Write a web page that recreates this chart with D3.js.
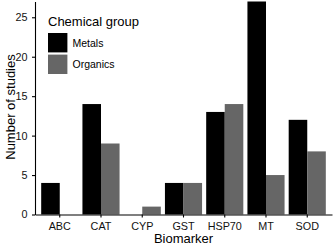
<!DOCTYPE html>
<html>
<head>
<meta charset="utf-8">
<script src="https://cdn.jsdelivr.net/npm/d3@7"></script>
<style>
  body { margin: 0; background: #fff; }
  svg { display: block; font-family: "Liberation Sans", Arial, sans-serif; }
</style>
</head>
<body>
<div id="chart"></div>
<script>
var biomarkers = ['ABC', 'CAT', 'CYP', 'GST', 'HSP70', 'MT', 'SOD'];
var groups = ['Metals', 'Organics'];
var metals = [4, 14, 0, 4, 13, 27, 12];
var organics = [0, 9, 1, 4, 14, 5, 8];
var yTicks = [0, 5, 10, 15, 20, 25];
var colors = ['#000000', '#666666'];

var width = 333, height = 245;
var svg = d3.select('#chart').append('svg')
  .attr('width', width)
  .attr('height', height);

var rows = biomarkers.map(function(b, i) {
  return { name: b, values: [metals[i], organics[i]] };
});

var x = d3.scaleBand()
  .domain(biomarkers)
  .range([35, 332])
  .paddingInner(0.1)
  .paddingOuter(0.15);

var xInner = d3.scaleBand()
  .domain(groups)
  .range([0, x.bandwidth()]);

var y = d3.scaleLinear()
  .domain([0, 27])
  .range([214.5, 1.5]);

// bars
svg.append('g')
  .selectAll('g')
  .data(rows)
  .enter()
  .append('g')
  .attr('transform', function(d) { return 'translate(' + x(d.name) + ',0)'; })
  .selectAll('rect')
  .data(function(d) { return d.values; })
  .enter()
  .append('rect')
  .attr('x', function(d, i) { return xInner(groups[i]); })
  .attr('width', xInner.bandwidth())
  .attr('y', function(d) { return y(d); })
  .attr('height', function(d) { return y(0) - y(d); })
  .attr('fill', function(d, i) { return colors[i]; });

// axes
var xAxis = svg.append('g')
  .attr('transform', 'translate(0,214.5)')
  .call(d3.axisBottom(x).tickSize(3).tickSizeOuter(0));

var yAxis = svg.append('g')
  .attr('transform', 'translate(35,0)')
  .call(d3.axisLeft(y).tickValues(yTicks).tickSize(3).tickSizeOuter(0));

svg.selectAll('.domain').attr('stroke', '#000').attr('stroke-width', 1.1);
svg.selectAll('.tick line').attr('stroke', '#000').attr('stroke-width', 1.1);
xAxis.attr('font-family', null);
yAxis.attr('font-family', null);
xAxis.selectAll('text')
  .attr('fill', '#111')
  .style('font-size', '10.8px')
  .attr('dy', '0.75em')
  .attr('y', 7);
yAxis.selectAll('text')
  .attr('fill', '#111')
  .style('font-size', '10.8px')
  .attr('x', -7.5);

// axis titles
svg.append('text')
  .attr('x', 183.5)
  .attr('y', 243)
  .attr('text-anchor', 'middle')
  .style('font-size', '13px')
  .text('Biomarker');

svg.append('text')
  .attr('transform', 'translate(14.5,107) rotate(-90)')
  .attr('text-anchor', 'middle')
  .style('font-size', '13px')
  .text('Number of studies');

// legend
var legend = svg.append('g').attr('transform', 'translate(48,0)');
legend.append('text')
  .attr('x', 0)
  .attr('y', 26)
  .style('font-size', '13px')
  .text('Chemical group');

legend.selectAll('rect')
  .data(groups)
  .enter()
  .append('rect')
  .attr('x', 0)
  .attr('y', function(d, i) { return 33 + i * 21.6; })
  .attr('width', 19.4)
  .attr('height', 19.4)
  .attr('fill', function(d, i) { return colors[i]; });

legend.selectAll('text.lab')
  .data(groups)
  .enter()
  .append('text')
  .attr('class', 'lab')
  .attr('x', 24.5)
  .attr('y', function(d, i) { return 46.5 + i * 21.6; })
  .style('font-size', '10.5px')
  .text(function(d) { return d; });
</script>
</body>
</html>
